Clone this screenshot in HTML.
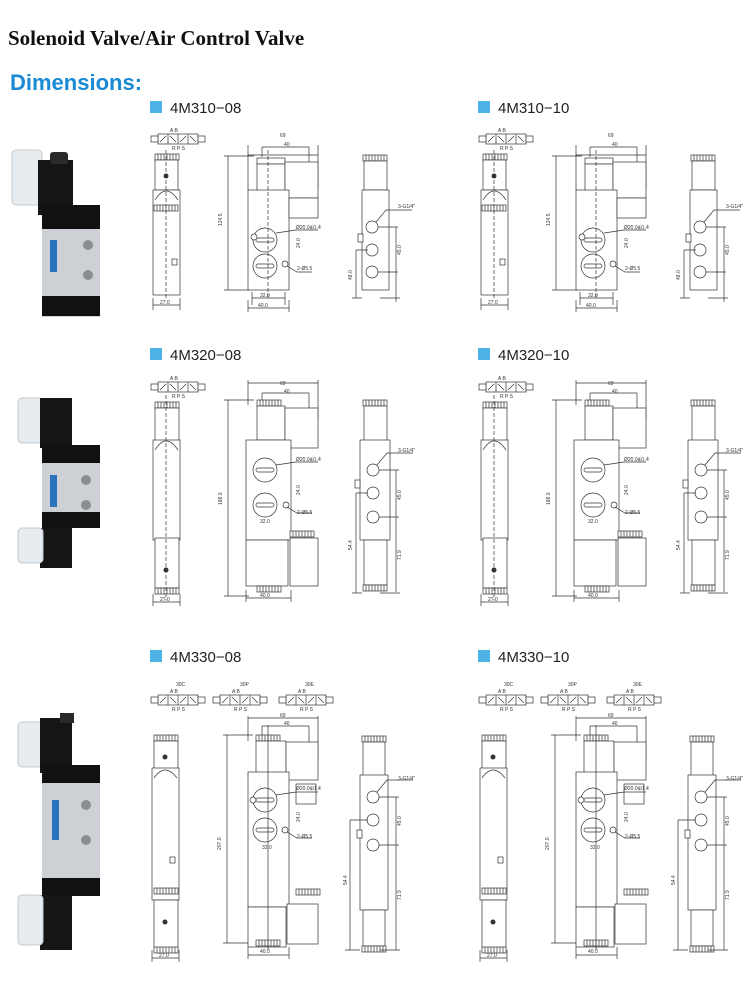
<!DOCTYPE html>
<html><head><meta charset="utf-8"><style>
html,body{margin:0;padding:0;background:#fff;width:750px;height:982px;overflow:hidden}
svg{position:absolute;left:0;top:0}
.t{font-family:"Liberation Serif",serif;font-weight:bold;font-size:21px;fill:#111}
.d{font-family:"Liberation Sans",sans-serif;font-weight:bold;font-size:22px;fill:#1a8ad4}
.h{font-family:"Liberation Sans",sans-serif;font-size:15px;fill:#222}
.s{font-family:"Liberation Sans",sans-serif;font-size:5px;fill:#333}
.l{fill:none;stroke:#333;stroke-width:0.7}
.w{fill:#fff;stroke:#333;stroke-width:0.7}
.k{fill:#333}
</style></head><body>
<svg width="750" height="982" viewBox="0 0 750 982">
<defs>
 <g id="sym">
  <rect x="8" y="6" width="40" height="10" class="w"/>
  <line x1="18" y1="6" x2="18" y2="16" class="l"/><line x1="28" y1="6" x2="28" y2="16" class="l"/><line x1="38" y1="6" x2="38" y2="16" class="l"/>
  <path d="M10 14 L16 8 M20 8 L26 14 M30 14 L36 8 M40 8 L46 14" class="l"/>
  <rect x="1" y="8" width="7" height="6" class="w"/><rect x="48" y="8" width="7" height="6" class="w"/>
  <text x="20" y="4" class="s">A B</text><text x="22" y="22" class="s">R P S</text>
 </g>
 <g id="coil">
  <rect x="0" y="0" width="24" height="6" class="w"/>
  <path d="M3 0v6M6 0v6M9 0v6M12 0v6M15 0v6M18 0v6M21 0v6" class="l"/>
 </g>
 <g id="r1">
  <use href="#sym" x="150" y="128"/>
  <use href="#coil" x="155" y="154"/>
  <rect x="155" y="160" width="23" height="30" class="w"/>
  <circle cx="166" cy="176" r="2.5" class="k"/>
  <rect x="153" y="190" width="27" height="105" class="w"/>
  <path d="M155 200 Q166 182 178 200" class="l"/>
  <use href="#coil" x="154" y="205"/>
  <line x1="166" y1="150" x2="166" y2="300" class="l" stroke-dasharray="4 2"/>
  <rect x="172" y="259" width="5" height="6" class="w"/>
  <path d="M153 298v12M180 298v12M153 305h27" class="l"/><text x="160" y="304" class="s">27.0</text>
  <path d="M248 155h70M248 145v45M318 145v45M262 147h47M262 147v10M309 147v20" class="l"/>
  <text x="280" y="137" class="s">69</text><text x="284" y="146" class="s">40</text>
  <rect x="257" y="158" width="28" height="6" class="w"/>
  <rect x="257" y="164" width="28" height="36" class="w"/>
  <rect x="285" y="162" width="33" height="36" class="w"/>
  <rect x="248" y="190" width="41" height="100" class="w"/>
  <rect x="289" y="198" width="29" height="20" class="w"/>
  <path d="M228 156v134M224 156h30M224 290h25" class="l"/><text x="222" y="226" class="s" transform="rotate(-90 222 226)">124.5</text>
  <circle cx="265" cy="240" r="12" class="w"/><rect x="256" y="238" width="18" height="4" class="w" rx="2"/>
  <circle cx="265" cy="266" r="12" class="w"/><rect x="256" y="264" width="18" height="4" class="w" rx="2"/>
  <circle cx="254" cy="237" r="3" class="w"/><circle cx="285" cy="264" r="3" class="w"/>
  <path d="M276 233l20-3h22M287 266l10 6h15" class="l"/>
  <line x1="268" y1="150" x2="268" y2="300" class="l" stroke-dasharray="4 2"/>
  <text x="296" y="229" class="s">Ø20.0⊞1.4</text><text x="297" y="270" class="s">2-Ø5.5</text>
  <text x="300" y="248" class="s" transform="rotate(-90 300 248)">24.0</text>
  <path d="M252 292v13M285 292v13M248 300v12M289 300v12M252 298h33M248 308h41" class="l"/>
  <text x="260" y="297" class="s">32.0</text><text x="258" y="307" class="s">40.0</text>
  <use href="#coil" x="363" y="155"/>
  <rect x="364" y="161" width="23" height="29" class="w"/>
  <rect x="362" y="190" width="27" height="100" class="w"/>
  <circle cx="372" cy="227" r="6" class="w"/><circle cx="372" cy="250" r="6" class="w"/><circle cx="372" cy="272" r="6" class="w"/>
  <rect x="358" y="234" width="5" height="8" class="w"/>
  <path d="M376 222l10-12h26M378 227h20M396 227v45M378 272h20M356 250h12M356 250v48M352 298h10M380 298h20M396 272v30" class="l"/>
  <text x="398" y="208" class="s">3-G1/4"</text>
  <text x="401" y="255" class="s" transform="rotate(-90 401 255)">45.0</text>
  <text x="352" y="280" class="s" transform="rotate(-90 352 280)">48.0</text>
 </g>
 <g id="r2">
  <use href="#sym" x="150" y="376"/>
  <use href="#coil" x="155" y="402"/>
  <rect x="155" y="408" width="24" height="34" class="w"/>
  <rect x="153" y="440" width="27" height="100" class="w"/>
  <path d="M155 450 Q166 432 178 450" class="l"/>
  <rect x="155" y="538" width="24" height="50" class="w"/>
  <circle cx="166" cy="570" r="2.5" class="k"/>
  <use href="#coil" x="155" y="588"/>
  <line x1="166" y1="395" x2="166" y2="600" class="l" stroke-dasharray="4 2"/>
  <path d="M153 594v12M180 594v12M153 602h27" class="l"/><text x="160" y="601" class="s">27.0</text>
  <path d="M248 383h70M248 380v25M318 380v40M262 393h47M262 393v12M309 393v20" class="l"/>
  <text x="280" y="385" class="s">69</text><text x="284" y="393" class="s">40</text>
  <use href="#coil" x="257" y="400"/>
  <rect x="257" y="406" width="28" height="34" class="w"/>
  <rect x="285" y="408" width="33" height="40" class="w"/>
  <rect x="246" y="440" width="45" height="100" class="w"/>
  <rect x="246" y="540" width="42" height="46" class="w"/>
  <rect x="290" y="538" width="28" height="48" class="w"/>
  <use href="#coil" x="257" y="586"/><use href="#coil" x="290" y="531"/>
  <path d="M228 400v196M224 400h30M224 596h25" class="l"/><text x="222" y="505" class="s" transform="rotate(-90 222 505)">188.0</text>
  <circle cx="265" cy="470" r="12" class="w"/><rect x="256" y="468" width="18" height="4" class="w" rx="2"/>
  <circle cx="265" cy="505" r="12" class="w"/><rect x="256" y="503" width="18" height="4" class="w" rx="2"/>
  <circle cx="286" cy="505" r="3" class="w"/>
  <path d="M276 465l20-3h22M287 507l10 6h15" class="l"/>
  <text x="296" y="461" class="s">Ø20.0⊞1.4</text><text x="297" y="514" class="s">2-Ø5.5</text>
  <text x="300" y="495" class="s" transform="rotate(-90 300 495)">24.0</text>
  <text x="260" y="523" class="s">32.0</text>
  <path d="M246 590v12M291 590v12M246 598h45" class="l"/><text x="260" y="597" class="s">40.0</text>
  <use href="#coil" x="363" y="400"/>
  <rect x="364" y="406" width="23" height="36" class="w"/>
  <rect x="360" y="440" width="30" height="100" class="w"/>
  <rect x="364" y="540" width="23" height="45" class="w"/>
  <use href="#coil" x="363" y="585"/>
  <circle cx="373" cy="470" r="6" class="w"/><circle cx="373" cy="493" r="6" class="w"/><circle cx="373" cy="517" r="6" class="w"/>
  <rect x="355" y="480" width="5" height="8" class="w"/>
  <path d="M377 465l10-12h26M379 470h20M396 470v47M379 517h20M356 493h12M356 493v100M396 517v75M352 593h10M380 593h20" class="l"/>
  <text x="398" y="452" class="s">3-G1/4"</text>
  <text x="401" y="500" class="s" transform="rotate(-90 401 500)">45.0</text>
  <text x="352" y="550" class="s" transform="rotate(-90 352 550)">54.4</text>
  <text x="401" y="560" class="s" transform="rotate(-90 401 560)">71.9</text>
 </g>
 <g id="r3">
  <text x="176" y="686" class="s">30C</text><text x="240" y="686" class="s">30P</text><text x="305" y="686" class="s">30E</text>
  <use href="#sym" x="150" y="689"/><use href="#sym" x="212" y="689"/><use href="#sym" x="278" y="689"/>
  <use href="#coil" x="154" y="735"/>
  <rect x="154" y="741" width="24" height="28" class="w"/>
  <circle cx="165" cy="757" r="2.5" class="k"/>
  <rect x="152" y="768" width="27" height="132" class="w"/>
  <path d="M154 778 Q165 762 177 778" class="l"/>
  <use href="#coil" x="154" y="888"/>
  <rect x="154" y="900" width="24" height="48" class="w"/>
  <circle cx="165" cy="922" r="2.5" class="k"/>
  <use href="#coil" x="154" y="947"/>
  <rect x="170" y="857" width="5" height="6" class="w"/>
  <path d="M152 950v12M179 950v12M152 958h27" class="l"/><text x="159" y="957" class="s">27.0</text>
  <path d="M248 718h70M248 716v25M318 716v45M262 726h47M262 726v12M309 726v20" class="l"/>
  <text x="280" y="717" class="s">69</text><text x="284" y="725" class="s">40</text>
  <use href="#coil" x="256" y="735"/>
  <rect x="256" y="741" width="30" height="32" class="w"/>
  <rect x="286" y="742" width="32" height="38" class="w"/>
  <rect x="248" y="772" width="41" height="135" class="w"/>
  <rect x="296" y="784" width="20" height="20" class="w"/>
  <rect x="248" y="907" width="38" height="40" class="w"/>
  <rect x="287" y="904" width="31" height="40" class="w"/>
  <use href="#coil" x="256" y="940"/><use href="#coil" x="296" y="889"/>
  <path d="M227 735v208M223 735h30M223 943h25" class="l"/><text x="221" y="850" class="s" transform="rotate(-90 221 850)">207.0</text>
  <circle cx="265" cy="800" r="12" class="w"/><rect x="256" y="798" width="18" height="4" class="w" rx="2"/>
  <circle cx="265" cy="830" r="12" class="w"/><rect x="256" y="828" width="18" height="4" class="w" rx="2"/>
  <circle cx="253" cy="800" r="3" class="w"/><circle cx="285" cy="830" r="3" class="w"/>
  <path d="M276 795l20-3h22M287 832l10 6h15M268 725v225" class="l"/>
  <text x="296" y="790" class="s">Ø20.0⊞1.4</text><text x="297" y="838" class="s">2-Ø5.5</text>
  <text x="300" y="822" class="s" transform="rotate(-90 300 822)">24.0</text>
  <text x="262" y="849" class="s">32.0</text>
  <path d="M248 947v12M289 947v12M248 955h41" class="l"/><text x="260" y="953" class="s">40.0</text>
  <use href="#coil" x="362" y="736"/>
  <rect x="363" y="742" width="22" height="34" class="w"/>
  <rect x="360" y="775" width="28" height="135" class="w"/>
  <rect x="363" y="910" width="22" height="36" class="w"/>
  <use href="#coil" x="362" y="946"/>
  <circle cx="373" cy="797" r="6" class="w"/><circle cx="373" cy="820" r="6" class="w"/><circle cx="373" cy="845" r="6" class="w"/>
  <rect x="357" y="830" width="5" height="8" class="w"/>
  <path d="M377 792l10-12h26M379 797h20M396 797v48M379 845h20M350 820h18M350 820v130M396 845v105M345 950h15M380 950h20" class="l"/>
  <text x="398" y="780" class="s">3-G1/4"</text>
  <text x="401" y="826" class="s" transform="rotate(-90 401 826)">45.0</text>
  <text x="347" y="885" class="s" transform="rotate(-90 347 885)">54.4</text>
  <text x="401" y="900" class="s" transform="rotate(-90 401 900)">71.9</text>
 </g>
</defs>

<text x="8" y="45" class="t">Solenoid Valve/Air Control Valve</text>
<text x="10" y="90" class="d">Dimensions:</text>

<rect x="150" y="101" width="12" height="12" fill="#4db3e6"/><text x="170" y="113" class="h">4M310−08</text>
<rect x="478" y="101" width="12" height="12" fill="#4db3e6"/><text x="498" y="113" class="h">4M310−10</text>
<rect x="150" y="348" width="12" height="12" fill="#4db3e6"/><text x="170" y="360" class="h">4M320−08</text>
<rect x="478" y="348" width="12" height="12" fill="#4db3e6"/><text x="498" y="360" class="h">4M320−10</text>
<rect x="150" y="650" width="12" height="12" fill="#4db3e6"/><text x="170" y="662" class="h">4M330−08</text>
<rect x="478" y="650" width="12" height="12" fill="#4db3e6"/><text x="498" y="662" class="h">4M330−10</text>

<use href="#r1"/><use href="#r1" x="328"/>
<use href="#r2"/><use href="#r2" x="328"/>
<use href="#r3"/><use href="#r3" x="328"/>

<g>
 <rect x="12" y="150" width="30" height="55" fill="#e6ecf0" stroke="#c4c8cc" rx="4"/>
 <rect x="38" y="160" width="35" height="55" fill="#151515"/>
 <rect x="50" y="152" width="18" height="12" fill="#2a2a2a" rx="3"/>
 <rect x="42" y="205" width="58" height="112" fill="#cdd1d5"/>
 <rect x="42" y="205" width="58" height="24" fill="#111"/>
 <rect x="42" y="296" width="58" height="20" fill="#111"/>
 <rect x="50" y="240" width="7" height="32" fill="#2a73c0"/>
 <circle cx="88" cy="245" r="5" fill="#8a8e92"/><circle cx="88" cy="275" r="5" fill="#8a8e92"/>
</g>
<g>
 <rect x="18" y="398" width="25" height="45" fill="#e6ecf0" stroke="#c4c8cc" rx="4"/>
 <rect x="40" y="398" width="32" height="50" fill="#151515"/>
 <rect x="42" y="445" width="58" height="80" fill="#cdd1d5"/>
 <rect x="42" y="445" width="58" height="18" fill="#111"/>
 <rect x="42" y="512" width="58" height="16" fill="#111"/>
 <rect x="50" y="475" width="7" height="32" fill="#2a73c0"/>
 <circle cx="86" cy="480" r="5" fill="#8a8e92"/><circle cx="86" cy="505" r="5" fill="#8a8e92"/>
 <rect x="40" y="528" width="32" height="40" fill="#151515"/>
 <rect x="18" y="528" width="25" height="35" fill="#e6ecf0" stroke="#c4c8cc" rx="4"/>
</g>
<g>
 <rect x="18" y="722" width="25" height="45" fill="#e6ecf0" stroke="#c4c8cc" rx="4"/>
 <rect x="40" y="718" width="32" height="55" fill="#151515"/>
 <rect x="60" y="713" width="14" height="10" fill="#2a2a2a"/>
 <rect x="42" y="765" width="58" height="130" fill="#cdd1d5"/>
 <rect x="42" y="765" width="58" height="18" fill="#111"/>
 <rect x="42" y="878" width="58" height="18" fill="#111"/>
 <rect x="52" y="800" width="7" height="40" fill="#2a73c0"/>
 <circle cx="86" cy="805" r="5" fill="#8a8e92"/><circle cx="86" cy="840" r="5" fill="#8a8e92"/>
 <rect x="40" y="895" width="32" height="55" fill="#151515"/>
 <rect x="18" y="895" width="25" height="50" fill="#e6ecf0" stroke="#c4c8cc" rx="4"/>
</g>
</svg>
</body></html>
